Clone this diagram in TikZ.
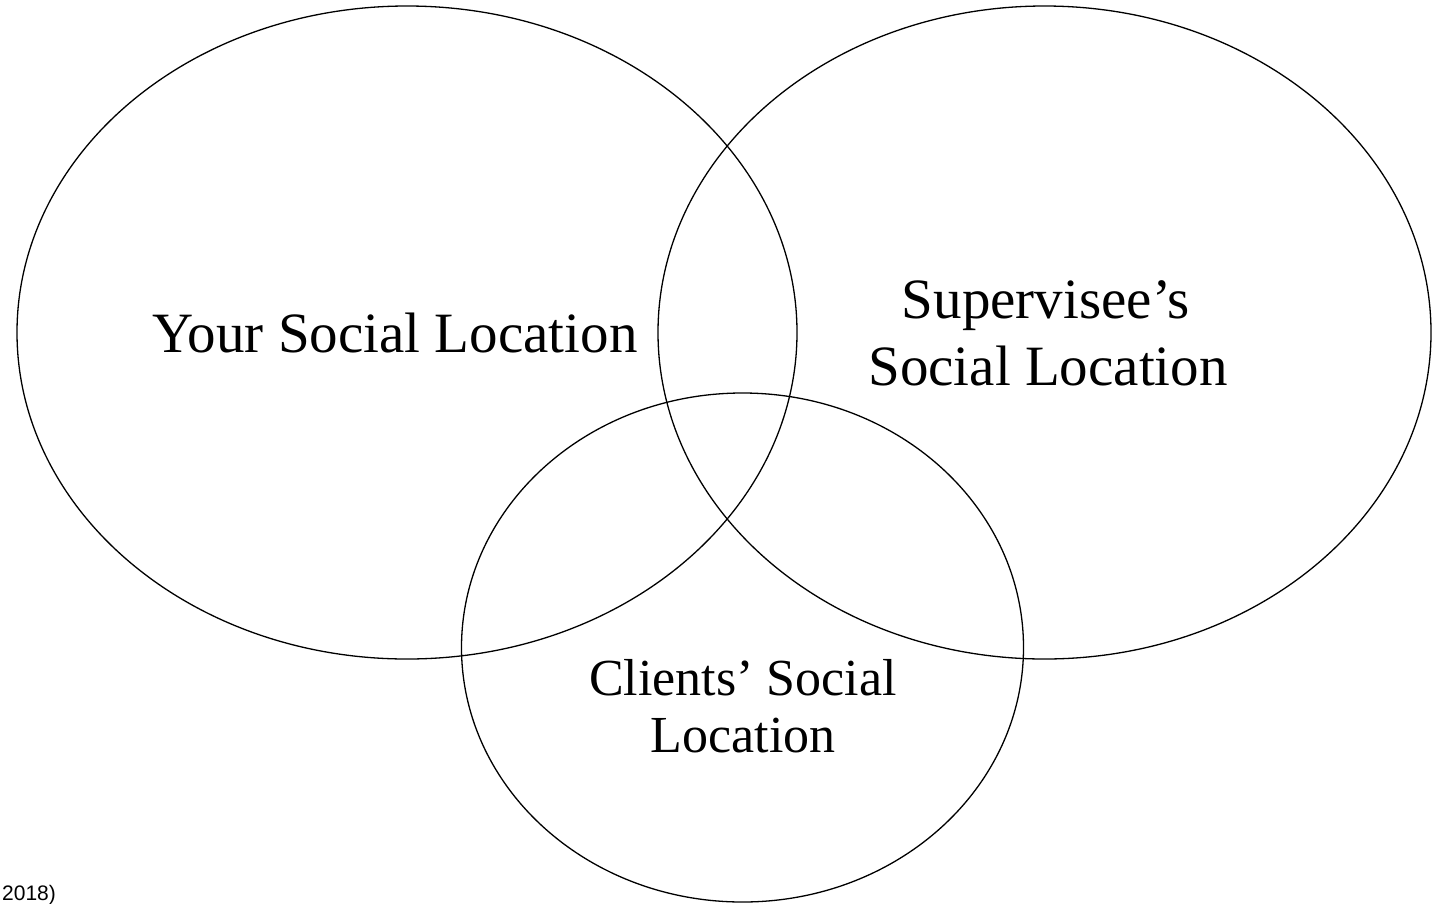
\documentclass[tikz,border=0pt]{standalone}
\usepackage{fontspec}
\setmainfont{Liberation Serif}
\newfontfamily\notefont{Liberation Sans}
\tikzset{
  venn/.style={draw=black, line width=1.3pt},
  biglabel/.style={anchor=base, inner sep=0pt, font=\fontsize{57}{67}\selectfont},
  smalllabel/.style={anchor=base, inner sep=0pt, font=\fontsize{52}{57}\selectfont},
  note/.style={anchor=base west, inner sep=0pt, font=\notefont\fontsize{21}{24}\selectfont}
}
\begin{document}
\begin{tikzpicture}[x=1pt, y=-1pt]
\useasboundingbox (0,0) rectangle (1432,903);
\draw[venn] (407,332.5) ellipse [x radius=390, y radius=326.5];
\draw[venn] (1044.5,332.5) ellipse [x radius=386.5, y radius=326.5];
\draw[venn] (742.5,647.5) ellipse [x radius=281, y radius=254.5];
\node[biglabel] (you) at (395,352) {Your Social Location};
\node[biglabel] (sup1) at (1046,318) {Supervisee’s};
\node[biglabel] (sup2) at (1048,385) {Social Location};
\node[smalllabel] (cli1) at (743,695) {Clients’ Social};
\node[smalllabel] (cli2) at (743,752) {Location};
\node[note] (yr) at (2,900) {2018)};
\end{tikzpicture}
\end{document}
